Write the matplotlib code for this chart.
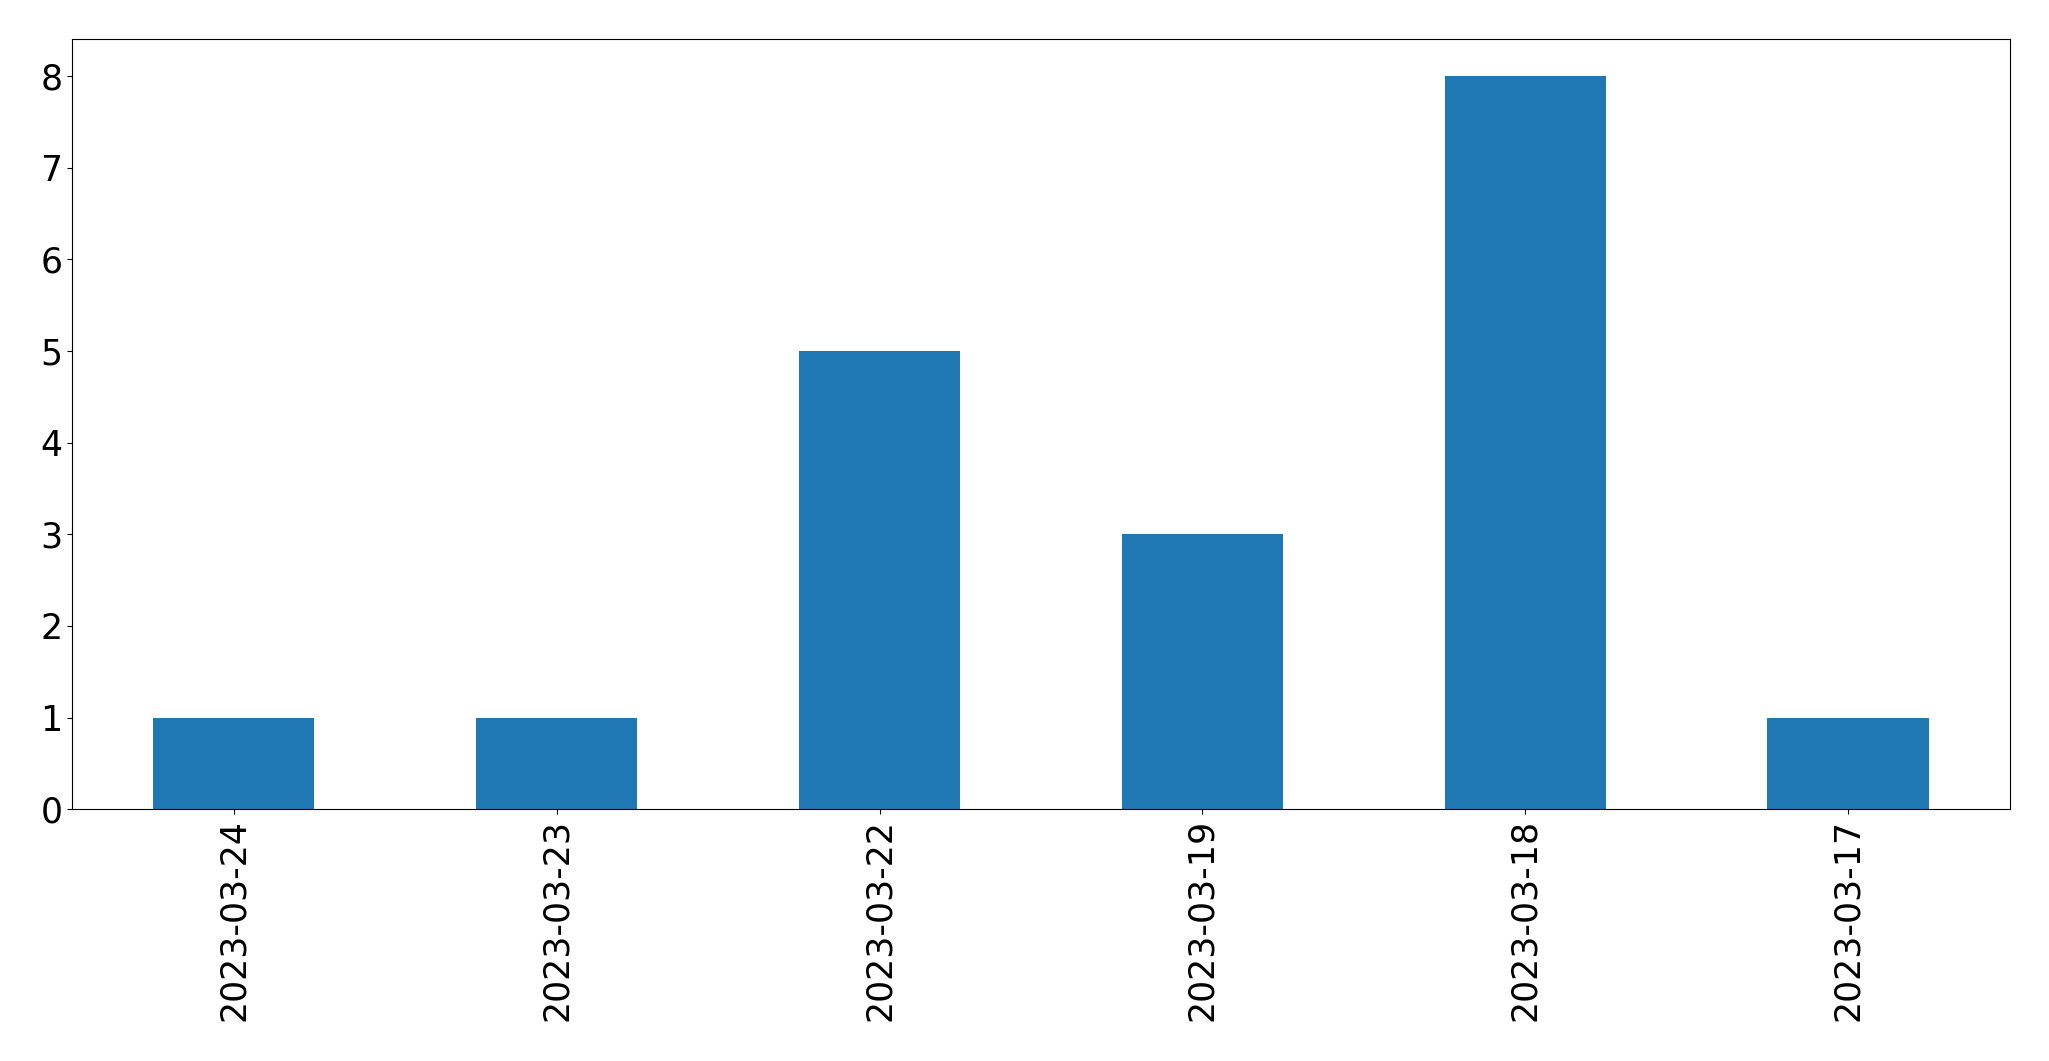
import matplotlib
matplotlib.use("Agg")
import matplotlib.pyplot as plt
import pandas as pd

# counts per day, in the order shown
dates = ["2023-03-24", "2023-03-23", "2023-03-22", "2023-03-19", "2023-03-18", "2023-03-17"]
counts = [1, 1, 5, 3, 8, 1]

s = pd.Series(counts, index=dates)

fig = plt.figure(figsize=(20.49, 10.61), dpi=100)
ax = fig.add_axes([0.0353, 0.2372, 0.9455, 0.7258])
s.plot(kind="bar", ax=ax, color="#1f77b4")
ax.tick_params(axis="both", labelsize=25)

fig.savefig("out.png", dpi=100)
